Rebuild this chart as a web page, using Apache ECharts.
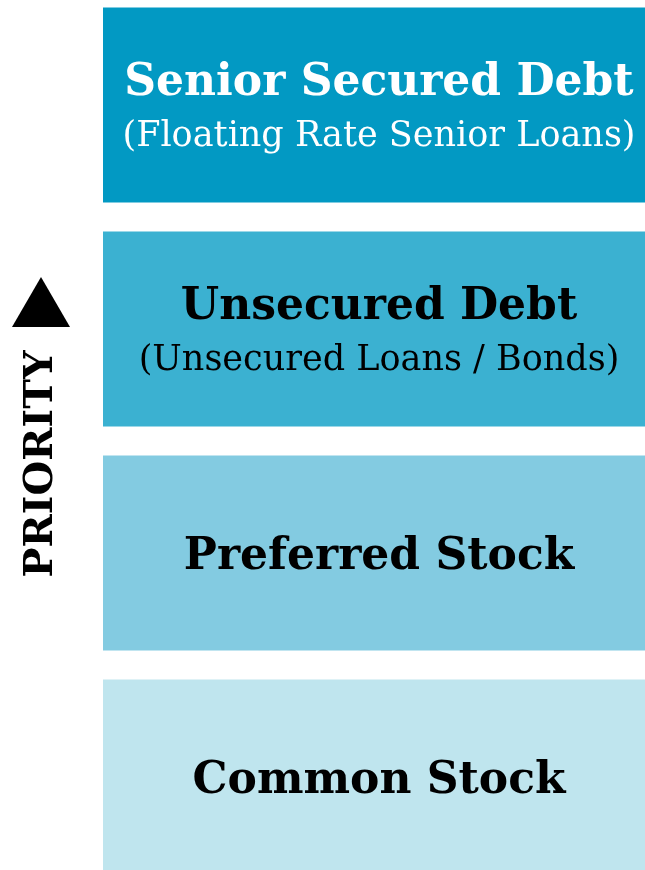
<!DOCTYPE html>
<html>
<head>
<meta charset="utf-8">
<script src="https://cdn.jsdelivr.net/npm/echarts@6/dist/echarts.min.js"></script>
<style>
  html, body {margin: 0; padding: 0; background: #ffffff;}
  #chart {width: 645px; height: 870px;}
</style>
</head>
<body>
<div id="chart"></div>
<script>
// tiers, listed top (highest priority) to bottom
const tier_names = ['Senior Secured Debt', 'Unsecured Debt', 'Preferred Stock', 'Common Stock'];
const tier_notes = ['(Floating Rate Senior Loans)', '(Unsecured Loans / Bonds)', '', ''];
const tier_values = [1, 1, 1, 1];
const tier_colors = ['#0299c3', '#3bb1d1', '#83cbe1', '#bfe5ee'];
const tier_text_colors = ['#ffffff', '#000000', '#000000', '#000000'];
const axis_label = 'PRIORITY';

function build_tier_option() {
    const data_list = tier_values.map((v, i) => {
        return {
            value: v,
            itemStyle: {color: tier_colors[i]},
            label: {
                color: tier_text_colors[i],
                rich: {
                    t: {fontFamily: 'DejaVu Serif', fontWeight: 'bold', fontSize: 44, color: tier_text_colors[i], lineHeight: 54},
                    s: {fontFamily: 'DejaVu Serif', fontSize: 35, color: tier_text_colors[i], lineHeight: 52}
                }
            }
        };
    });

    return {
        animation: false,
        grid: {left: 103, right: 0, top: -7, bottom: -19, outerBoundsMode: 'none'},
        xAxis: {type: 'value', min: 0, max: 1, show: false},
        yAxis: {
            type: 'category',
            inverse: true,
            data: tier_names,
            show: false
        },
        series: [{
            type: 'bar',
            data: data_list,
            barCategoryGap: '13%',
            label: {
                show: true,
                position: 'inside',
                offset: [5, 5],
                formatter: function (p) {
                    const note = tier_notes[p.dataIndex];
                    return note ? `{t|${p.name}}\n{s|${note}}` : `{t|${p.name}}`;
                }
            }
        }],
        graphic: [
            {
                type: 'polygon',
                shape: {points: [[12, 327], [70, 327], [41, 277]]},
                style: {fill: '#000000'}
            },
            {
                type: 'text',
                x: 42,
                y: 464,
                rotation: Math.PI / 2,
                style: {
                    text: axis_label,
                    fontFamily: 'DejaVu Serif',
                    fontWeight: 'bold',
                    fontSize: 40,
                    fill: '#000000',
                    align: 'center',
                    verticalAlign: 'middle'
                }
            }
        ]
    };
}

let tier_chart = echarts.init(document.getElementById('chart'), null, {renderer: 'canvas'});
tier_chart.setOption(build_tier_option());
window.addEventListener('resize', function () {
    tier_chart.resize();
});
</script>
</body>
</html>
